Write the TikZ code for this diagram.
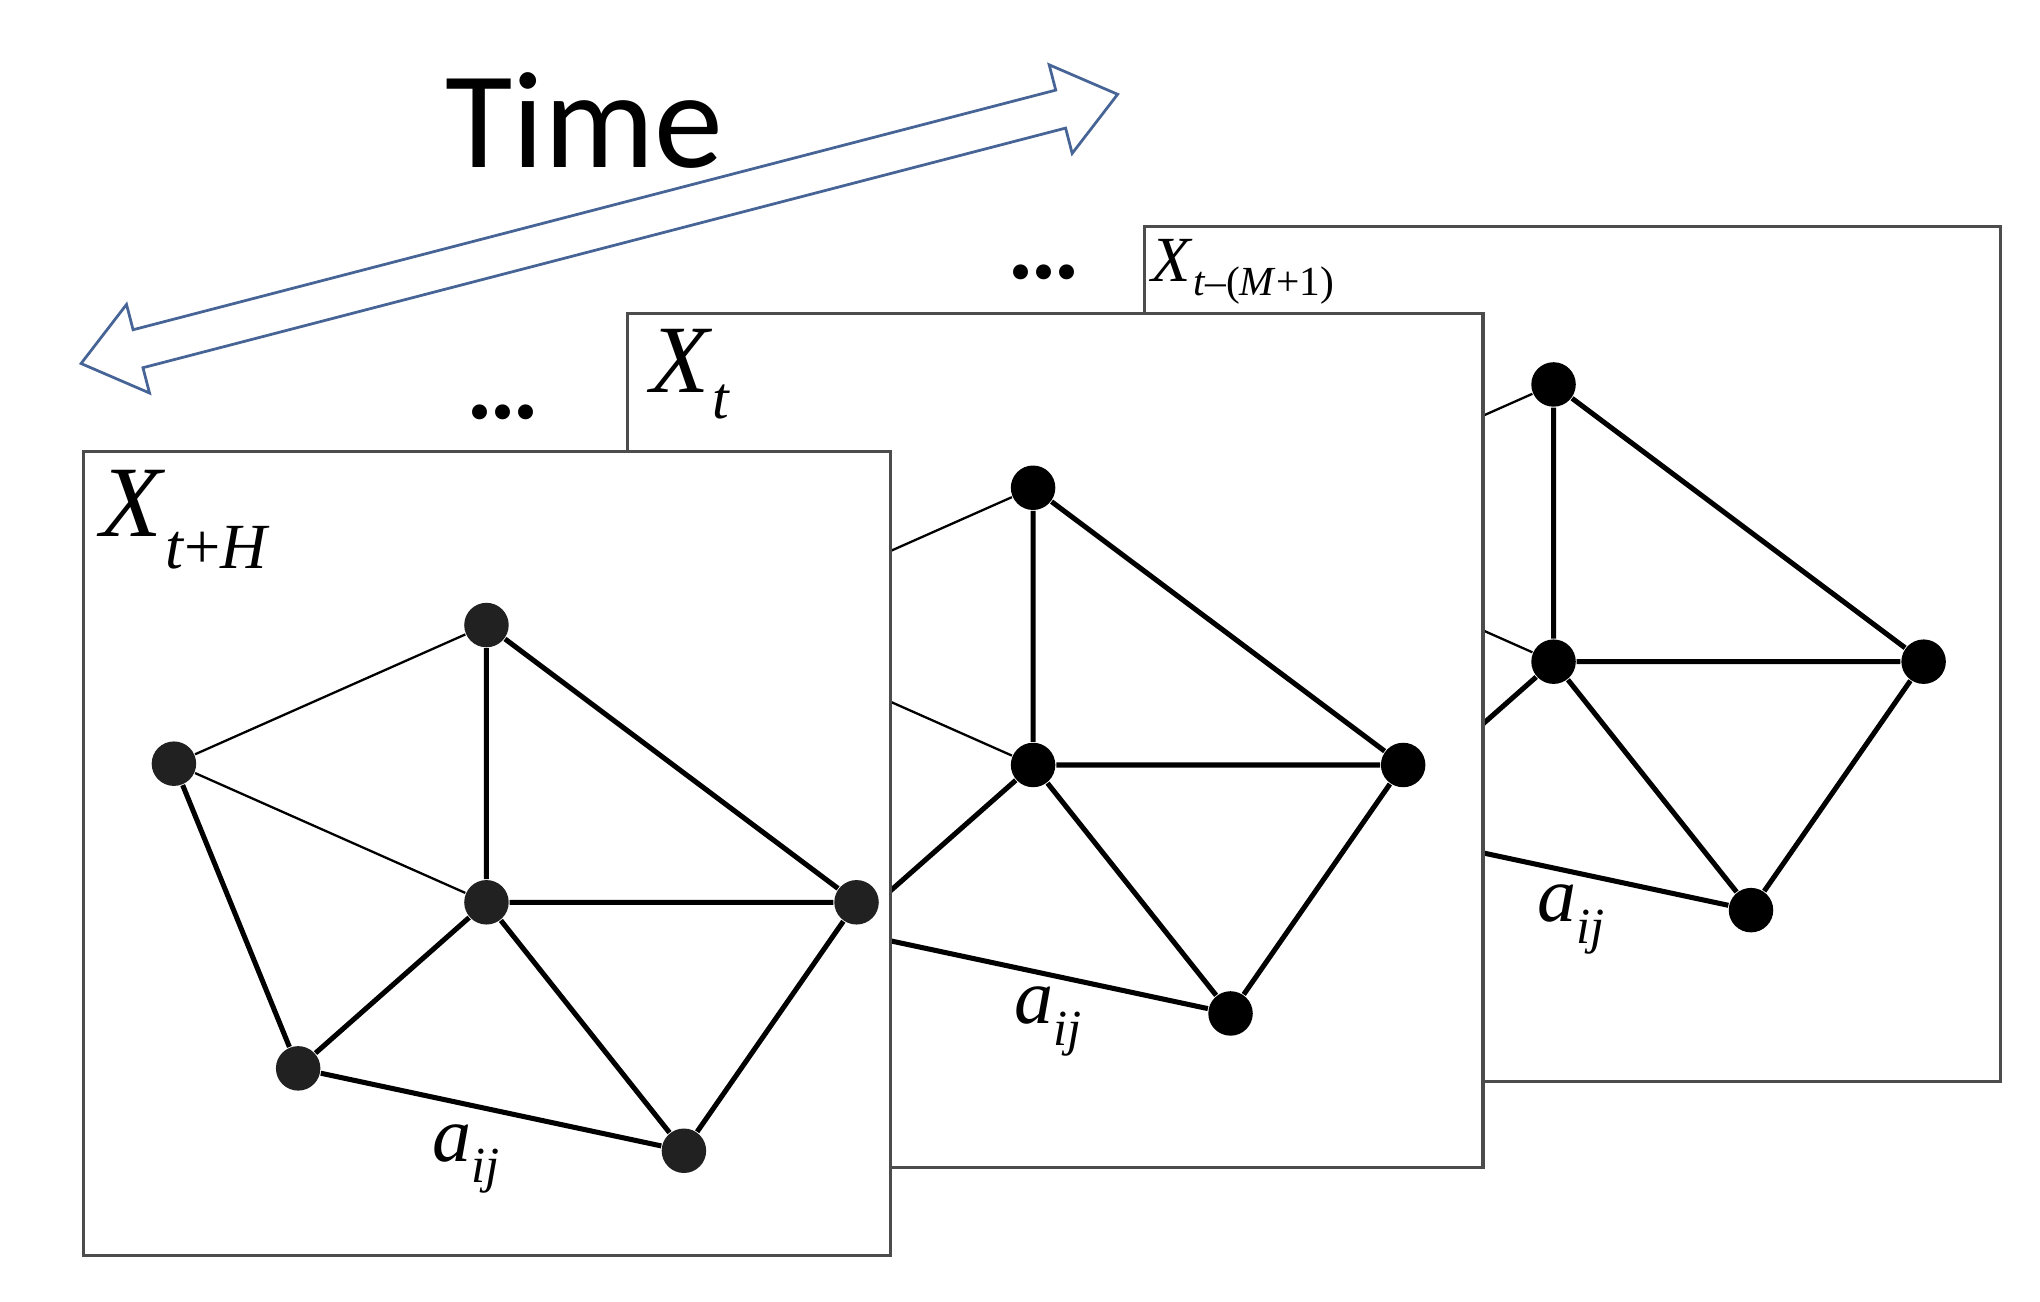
\documentclass[tikz,border=0pt]{standalone}
\usepackage{fontspec}
\setmainfont{Liberation Serif}
\newfontfamily\timefont{Carlito}
\begin{document}
\begin{tikzpicture}[x=0.01cm,y=-0.01cm,
  frame/.style={draw=black!70,fill=white,line width=0.7pt},
  nd/.style={circle,fill=black,inner sep=0pt,minimum size=0.34cm},
  ndf/.style={circle,fill=black!87,inner sep=0pt,minimum size=0.34cm},
  ed/.style={line width=1.1pt},
  thin edge/.style={line width=0.5pt},
  lbl/.style={inner sep=0pt,anchor=base west}]
\useasboundingbox (0,0) rectangle (1560,995);
% Time arrow
\begin{scope}[shift={(62,278)},rotate=14.56]
\draw[draw={rgb,255:red,70;green,100;blue,150},line width=0.6pt,fill=white]
 (0,0) -- (45,-35) -- (45,-15) -- (774,-15) -- (774,-35) -- (819,0) -- (774,35) -- (774,15) -- (45,15) -- (45,35) -- cycle;
\end{scope}
\node[inner sep=0pt] (time) at (447,92) {\timefont\fontsize{30}{30}\selectfont Time};
% back frame
\draw[frame] (875,173) rectangle (1530,827);
\node[lbl] (lb) at (880,215) {\fontsize{14}{14}\selectfont\textit{X}\raisebox{-0.5ex}{\fontsize{9}{9}\selectfont\textit{t}–(\textit{M}+1)}};
\begin{scope}[shift={(816,-184)}]
\node[nd] (bA) at (372,478) {}; \node[nd] (bB) at (133,584) {};
\node[nd] (bC) at (372,690) {}; \node[nd] (bD) at (655,690) {};
\node[nd] (bE) at (228,817) {}; \node[nd] (bF) at (523,880) {};
\end{scope}
\draw[thin edge] (bB)--(bA) (bB)--(bC);
\draw[ed] (bA)--(bC) (bA)--(bD) (bB)--(bE) (bC)--(bD) (bC)--(bE) (bC)--(bF) (bD)--(bF) (bE)--(bF);
\node[lbl] (la3) at (1175,705) {\fontsize{17}{17}\selectfont\textit{a}\raisebox{-0.6ex}{\fontsize{11}{11}\selectfont\textit{ij}}};
\node[inner sep=0pt] (d2) at (798,208) {\bfseries\fontsize{20}{20}\selectfont...};
% middle frame
\draw[frame] (480,240) rectangle (1134,893);
\node[lbl] (lm) at (497,300) {\fontsize{21}{21}\selectfont\textit{X}\raisebox{-0.6ex}{\fontsize{13}{13}\selectfont\textit{t}}};
\begin{scope}[shift={(418,-105)}]
\node[nd] (mA) at (372,478) {}; \node[nd] (mB) at (133,584) {};
\node[nd] (mC) at (372,690) {}; \node[nd] (mD) at (655,690) {};
\node[nd] (mE) at (228,817) {}; \node[nd] (mF) at (523,880) {};
\end{scope}
\draw[thin edge] (mB)--(mA) (mB)--(mC);
\draw[ed] (mA)--(mC) (mA)--(mD) (mB)--(mE) (mC)--(mD) (mC)--(mE) (mC)--(mF) (mD)--(mF) (mE)--(mF);
\node[lbl] (la2) at (775,783) {\fontsize{17}{17}\selectfont\textit{a}\raisebox{-0.6ex}{\fontsize{11}{11}\selectfont\textit{ij}}};
\node[inner sep=0pt] (d1) at (385,315) {\bfseries\fontsize{20}{20}\selectfont...};
% front frame
\draw[frame] (64,345) rectangle (681,960);
\node[lbl] (lf) at (76,410) {\fontsize{22}{22}\selectfont\textit{X}\raisebox{-0.7ex}{\fontsize{14}{14}\selectfont\textit{t}+\textit{H}}};
\node[ndf] (fA) at (372,478) {}; \node[ndf] (fB) at (133,584) {};
\node[ndf] (fC) at (372,690) {}; \node[ndf] (fD) at (655,690) {};
\node[ndf] (fE) at (228,817) {}; \node[ndf] (fF) at (523,880) {};
\draw[thin edge] (fB)--(fA) (fB)--(fC);
\draw[ed] (fA)--(fC) (fA)--(fD) (fB)--(fE) (fC)--(fD) (fC)--(fE) (fC)--(fF) (fD)--(fF) (fE)--(fF);
\node[lbl] (la1) at (330,888) {\fontsize{17}{17}\selectfont\textit{a}\raisebox{-0.6ex}{\fontsize{11}{11}\selectfont\textit{ij}}};
\end{tikzpicture}
\end{document}
